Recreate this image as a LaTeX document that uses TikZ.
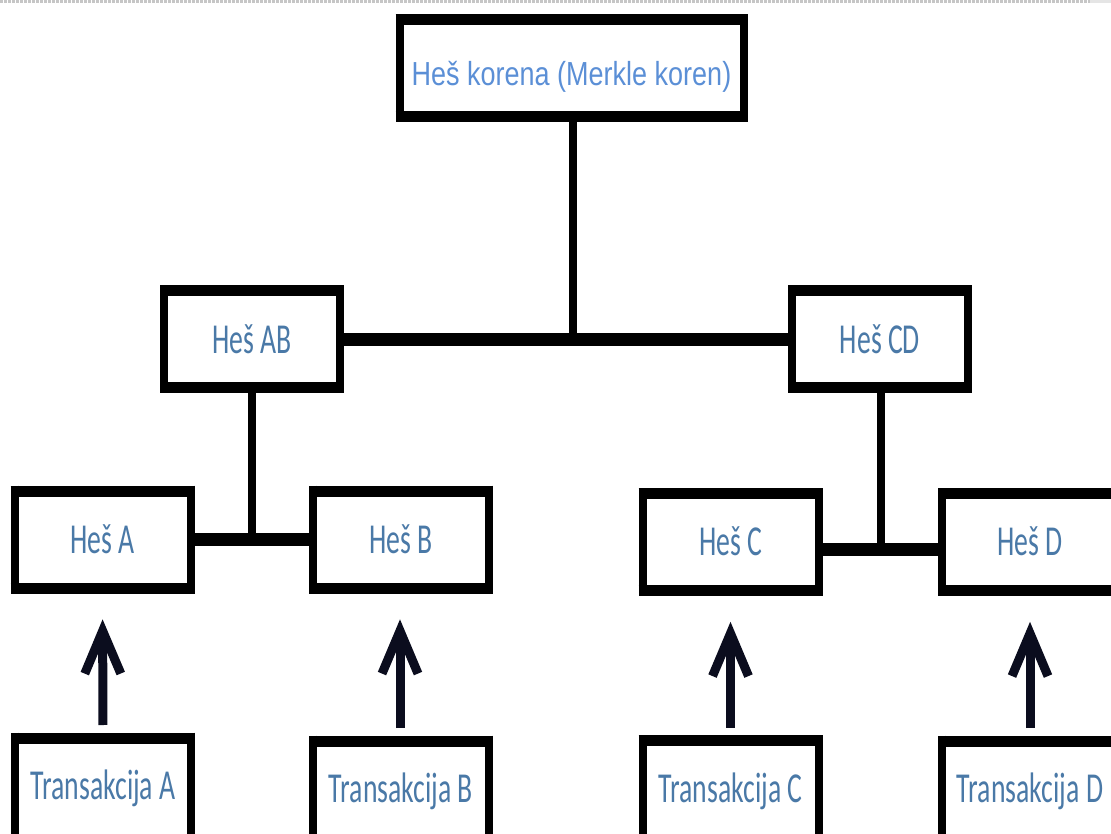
\documentclass[tikz,border=0pt]{standalone}
\usepackage{fontspec}
\usetikzlibrary{arrows.meta}
\newfontfamily\hashfont[FakeStretch=0.65]{Carlito}
\newfontfamily\rootfont[FakeStretch=0.81]{Liberation Sans}
\definecolor{roottext}{HTML}{5B8FD6}
\definecolor{hashtext}{HTML}{4A79A7}
\definecolor{arrowink}{HTML}{0B0D1E}
\tikzset{
  treebox/.style={rectangle, draw=none, outer sep=0pt, inner sep=0pt,
    minimum width=132pt, minimum height=72.75pt,
    text=hashtext, font=\hashfont\fontsize{32}{36}\selectfont,
    text height=20.6pt, text depth=0pt},
  rootbox/.style={treebox, minimum width=258pt,
    text=roottext, font=\rootfont\fontsize{25}{30}\selectfont,
    text height=25.4pt},
  txbox/.style={treebox, minimum height=84pt, text depth=12pt},
  sideedge/.style={line width=6pt, shorten <=-4.1pt, shorten >=-4.1pt},
  capedge/.style={line width=8.25pt, shorten <=-3pt, shorten >=-3pt},
  hlink/.style={line width=9.75pt},
  vlink/.style={line width=6pt},
  feeds/.style={arrowink, line width=6.75pt,
    -{Straight Barb[sharp, length=32pt, width=27pt, line width=6.75pt]},
    shorten <=9.75pt, shorten >=23.5pt},
}
\begin{document}
\begin{tikzpicture}[x=0.75pt, y=-0.75pt]
\useasboundingbox (0,0) rectangle (1111,834);
\clip (0,0) rectangle (1111,834);

% faint rule along the top edge
\draw[gray!45, line width=2.25pt, dash pattern=on 2pt off 1pt] (0,2) -- (1090,2);
\draw[gray!20, line width=2.25pt] (1090,2) -- (1111,2);

% tree nodes
\node[rootbox] (root) at (571.5,68.5) {Heš korena (Merkle koren)};
\node[treebox] (ab) at (252,339.5) {Heš AB};
\node[treebox] (cd) at (880,339.5) {Heš CD};
\node[treebox] (ha) at (102.5,539.5) {Heš A};
\node[treebox] (hb) at (401,539.5) {Heš B};
\node[treebox] (hc) at (730.5,542) {Heš C};
\node[treebox] (hd) at (1030,542) {Heš D};
\node[txbox] (ta) at (103,794) {Transakcija A};
\node[txbox] (tb) at (401,797) {Transakcija B};
\node[txbox] (tc) at (730.5,796.5) {Transakcija C};
\node[txbox] (td) at (1030,797) {Transakcija D};

% box outlines: thinner sides, heavier top and bottom
\foreach \n in {root,ab,cd,ha,hb,hc,hd,ta,tb,tc,td} {
  \draw[sideedge] (\n.north west) -- (\n.south west);
  \draw[sideedge] (\n.north east) -- (\n.south east);
  \draw[capedge] (\n.north west) -- (\n.north east);
  \draw[capedge] (\n.south west) -- (\n.south east);
}

% joins between levels
\draw[hlink] ([xshift=3pt]ab.east) -- ([xshift=-3pt]cd.west);
\coordinate (rootfoot) at ([xshift=1.1pt]root.south);
\draw[vlink] (rootfoot) -- (rootfoot |- ab.east);

\draw[hlink] ([xshift=3pt]ha.east) -- ([xshift=-3pt]hb.west);
\draw[vlink] (ab.south) -- (ab.south |- ha.east);

\draw[hlink] ([xshift=3pt,yshift=-5.25pt]hc.east) -- ([xshift=-3pt,yshift=-5.25pt]hd.west);
\draw[vlink] ([xshift=0.75pt]cd.south) -- ([xshift=0.75pt,yshift=-5.25pt]cd.south |- hc.east);

% transactions feed their hashes
\draw[feeds] (ta.north) -- (ha.south);
\draw[feeds] ([xshift=-0.75pt]tb.north) -- ([xshift=-0.75pt]hb.south);
\draw[feeds] (tc.north) -- (hc.south);
\draw[feeds] (td.north) -- (hd.south);
\end{tikzpicture}
\end{document}
